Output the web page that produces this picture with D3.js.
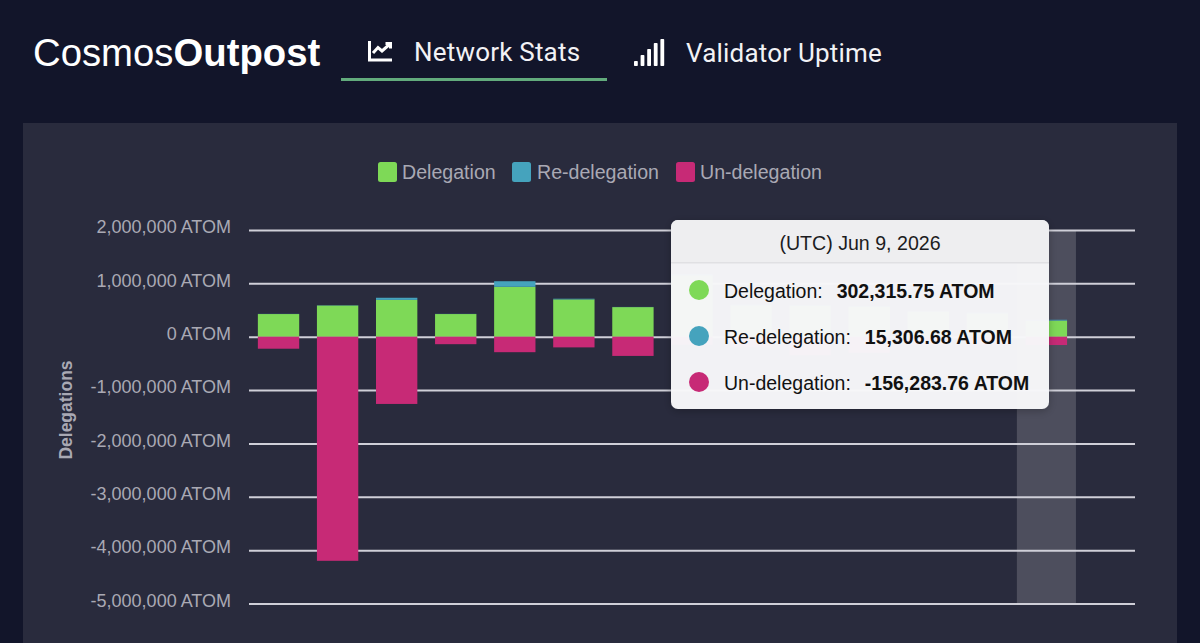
<!DOCTYPE html>
<html>
<head>
<meta charset="utf-8">
<script src="https://cdn.jsdelivr.net/npm/d3@7"></script>
<style>
html, body { margin: 0; padding: 0; background: #12152a; overflow: hidden; }
text { font-family: "Liberation Sans", sans-serif; }
</style>
</head>
<body>
<script>
const categories = ['May 27', 'May 28', 'May 29', 'May 30', 'May 31', 'Jun 1', 'Jun 2', 'Jun 3', 'Jun 4', 'Jun 5', 'Jun 6', 'Jun 7', 'Jun 8', 'Jun 9', 'Jun 10']
const delegation = [425000, 585000, 690000, 425000, 935000, 700000, 555000, 1150000, 590000, 580000, 560000, 470000, 440000, 302315.75, 0]
const redelegation = [3000, 5000, 40000, 3000, 105000, 12000, 3000, 20000, 10000, 10000, 10000, 10000, 10000, 15306.68, 0]
const undelegation = [-225000, -4200000, -1260000, -140000, -290000, -200000, -360000, -150000, -200000, -350000, -300000, -150000, -150000, -156283.76, 0]
const yTicks = [2000000, 1000000, 0, -1000000, -2000000, -3000000, -4000000, -5000000]
const seriesNames = ['Delegation', 'Re-delegation', 'Un-delegation']
const seriesColors = ['#7ed957', '#45a3bd', '#c72a76']
const tooltipDate = '(UTC) Jun 9, 2026'
const tooltipValues = ['302,315.75 ATOM', '15,306.68 ATOM', '-156,283.76 ATOM']
const hoverIndex = 13

const svg = d3.select('body').append('svg')
    .attr('width', 1200)
    .attr('height', 643)
    .style('display', 'block')

// page header
svg.append('rect').attr('width', 1200).attr('height', 643).attr('fill', '#12152a')
const logo = svg.append('text').attr('x', 33).attr('y', 66)
    .attr('fill', '#fff').style('font-size', '38.3px')
logo.append('tspan').text('Cosmos')
logo.append('tspan').text('Outpost').style('font-weight', 'bold')

svg.append('text').attr('x', 414).attr('y', 61).text('Network Stats')
    .attr('fill', '#f2f2f5').style('font-size', '26px').style('font-family', 'Roboto').style('letter-spacing', '0.2px')
svg.append('text').attr('x', 686).attr('y', 62).text('Validator Uptime')
    .attr('fill', '#f2f2f5').style('font-size', '26px').style('font-family', 'Roboto').style('letter-spacing', '0.2px')
svg.append('rect').attr('x', 341).attr('y', 78).attr('width', 266).attr('height', 3).attr('fill', '#62ab7c')

// chart line icon
svg.append('path')
    .attr('d', 'M369.5 41V60H392 M373 53L378 47.5L382 51L390 44 M385.5 43.5H390.5V48.5')
    .attr('fill', 'none').attr('stroke', '#fff').attr('stroke-width', 3)

// signal icon
const signalBars = [5, 11, 17, 23, 27]
svg.append('g').selectAll('rect').data(signalBars).enter().append('rect')
    .attr('x', (d, i) => 634 + i * 6.6)
    .attr('y', d => 66 - d)
    .attr('width', 3.8)
    .attr('height', d => d)
    .attr('rx', 0.8)
    .attr('fill', '#fff')

// chart panel
svg.append('rect').attr('x', 23).attr('y', 123).attr('width', 1154).attr('height', 520).attr('fill', '#292b3d')

// legend
const legendX = [378, 512, 676]
const legend = svg.append('g').selectAll('g').data(seriesNames).enter().append('g')
    .attr('transform', (d, i) => 'translate(' + legendX[i] + ',162)')
legend.append('rect').attr('width', 19).attr('height', 20).attr('rx', 2.5)
    .attr('fill', (d, i) => seriesColors[i])
legend.append('text').attr('x', (d, i) => i == 1 ? 25 : 24).attr('y', 17).text(d => d)
    .attr('fill', '#a9a9b4').style('font-size', '19.6px')

// scales
const x = d3.scaleBand()
    .domain(categories)
    .range([249, 1135])
    .paddingInner(0.3)
    .paddingOuter(0.15)
const y = d3.scaleLinear()
    .domain([-5000000, 2000000])
    .range([603.5, 230])

// hover band
svg.append('rect')
    .attr('x', x(categories[hoverIndex]) - x.step() * 0.15)
    .attr('y', y(2000000))
    .attr('width', x.step())
    .attr('height', y(-5000000) - y(2000000))
    .attr('fill', '#fff').attr('opacity', 0.17)

// y axis with grid lines
const yAxis = svg.append('g')
    .attr('transform', 'translate(249,0)')
    .call(d3.axisLeft(y)
        .tickValues(yTicks)
        .tickSize(-886)
        .tickPadding(18)
        .tickFormat(d => d3.format(',')(d).replace('\u2212', '-') + ' ATOM'))
yAxis.select('.domain').remove()
yAxis.selectAll('line').attr('stroke', '#cfcfd8').attr('stroke-width', 2)
yAxis.selectAll('text')
    .attr('y', -3)
    .attr('fill', '#a9a9b4')
    .style('font-size', '18px')
    .style('font-family', '"Liberation Sans", sans-serif')

svg.append('text')
    .attr('transform', 'translate(72,410) rotate(-90)')
    .attr('text-anchor', 'middle')
    .text('Delegations')
    .attr('fill', '#a9a9b4')
    .style('font-size', '17.5px').style('font-weight', 'bold')

// stacked bars
const bars = svg.append('g').selectAll('g').data(categories).enter().append('g')
bars.append('rect')
    .attr('x', d => x(d)).attr('width', x.bandwidth())
    .attr('y', (d, i) => y(delegation[i]))
    .attr('height', (d, i) => y(0) - y(delegation[i]))
    .attr('fill', seriesColors[0])
bars.append('rect')
    .attr('x', d => x(d)).attr('width', x.bandwidth())
    .attr('y', (d, i) => y(delegation[i] + redelegation[i]))
    .attr('height', (d, i) => y(delegation[i]) - y(delegation[i] + redelegation[i]))
    .attr('fill', seriesColors[1])
bars.append('rect')
    .attr('x', d => x(d)).attr('width', x.bandwidth())
    .attr('y', y(0))
    .attr('height', (d, i) => y(undelegation[i]) - y(0))
    .attr('fill', seriesColors[2])

// tooltip
const tip = svg.append('g').attr('transform', 'translate(671,220)')
const tipFilter = svg.append('defs').append('filter').attr('id', 'tipShadow')
    .attr('x', '-10%').attr('y', '-10%').attr('width', '120%').attr('height', '120%')
tipFilter.append('feDropShadow').attr('dx', 0).attr('dy', 2).attr('stdDeviation', 4)
    .attr('flood-color', '#000').attr('flood-opacity', 0.25)
tip.append('rect').attr('width', 378).attr('height', 189).attr('rx', 7)
    .attr('fill', '#f8f8fa').attr('fill-opacity', 0.97).attr('filter', 'url(#tipShadow)')
tip.append('path').attr('d', 'M0 43V7A7 7 0 0 1 7 0H371A7 7 0 0 1 378 7V43Z').attr('fill', '#eeeef0')
tip.append('rect').attr('y', 42).attr('width', 378).attr('height', 1.5).attr('fill', '#e0e0e3')
tip.append('text').attr('x', 189).attr('y', 30).attr('text-anchor', 'middle')
    .text(tooltipDate).attr('fill', '#1c1c1e').style('font-size', '19.6px')

const tipRows = tip.selectAll('g.row').data(seriesNames).enter().append('g')
    .attr('class', 'row')
    .attr('transform', (d, i) => 'translate(0,' + (71 + i * 46) + ')')
tipRows.append('circle').attr('cx', 28).attr('cy', -1).attr('r', 10)
    .attr('fill', (d, i) => seriesColors[i])
const tipText = tipRows.append('text').attr('x', 53).attr('y', 7)
    .attr('fill', '#111').style('font-size', '19.5px')
tipText.append('tspan').text(d => d + ':')
tipText.append('tspan').attr('dx', 14).text((d, i) => tooltipValues[i]).style('font-weight', 'bold')
</script>
</body>
</html>
